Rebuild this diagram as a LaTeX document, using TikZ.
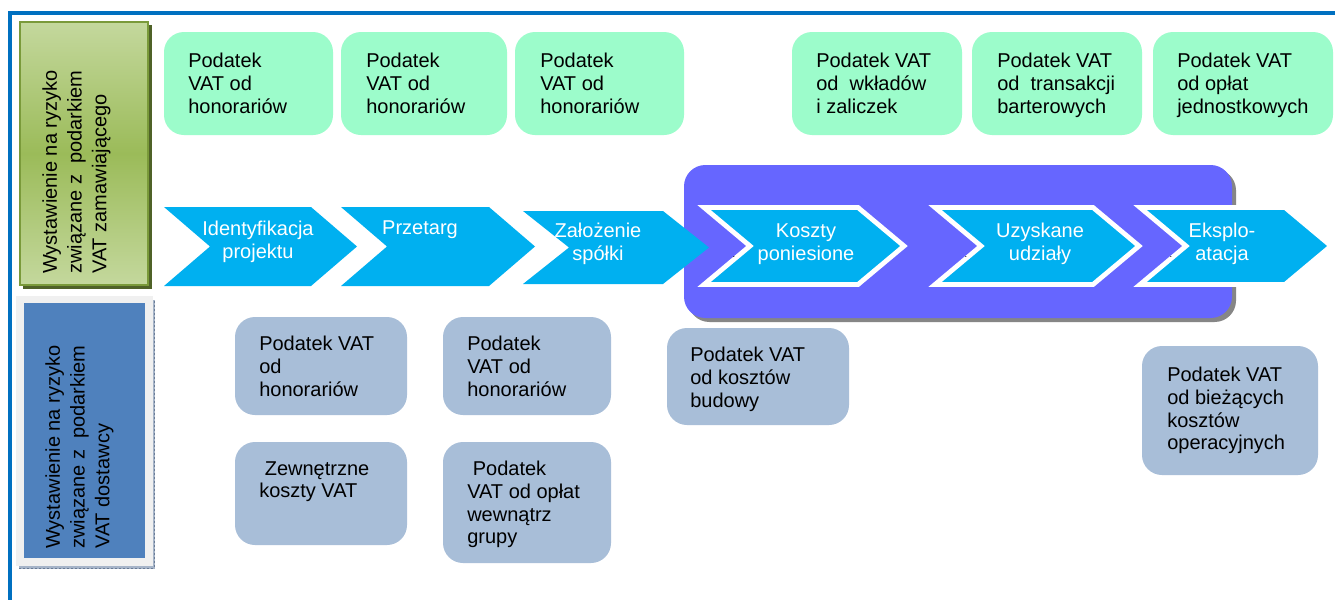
\documentclass[tikz,border=0pt]{standalone}
\usepackage{fontspec}
\setmainfont{Liberation Sans}
\definecolor{frameblue}{HTML}{0070C0}
\definecolor{mint}{HTML}{9CFCCB}
\definecolor{steel}{HTML}{A8BED8}
\definecolor{chevblue}{HTML}{00B0F0}
\definecolor{violet}{HTML}{6666FF}
\definecolor{oliveLight}{HTML}{C4D89D}
\definecolor{oliveMid}{HTML}{9BBB59}
\definecolor{oliveDark}{HTML}{4F6228}
\definecolor{oliveEdge}{HTML}{7A9A3A}
\definecolor{paneBlue}{HTML}{4F81BD}
\definecolor{paneGrey}{HTML}{F0F0F0}
\definecolor{hatch}{HTML}{A6B4C8}
\definecolor{hatchDark}{HTML}{6A7C96}

% chevron outline: style, left, right, top, bottom, tip depth
\newcommand\chevshape[6]{%
  \path[#1] (#2,#4) -- ({#3-#6},#4) -- (#3,{(#4+#5)/2}) -- ({#3-#6},#5)
    -- (#2,#5) -- ({#2+#6},{(#4+#5)/2}) -- cycle;}

\tikzset{
  body/.style={font=\fontsize{15}{17}\selectfont},
  boxtext/.style={body, anchor=north west, align=left, inner sep=0pt, text=black},
  sidetext/.style={font=\fontsize{15}{18.6}\selectfont, rotate=90, anchor=north west,
    align=left, inner sep=0pt, text=black},
  chevtext/.style={body, align=center, inner sep=0pt, text=white},
  mintbox/.style={fill=mint, rounded corners=15pt},
  steelbox/.style={fill=steel, rounded corners=15pt},
  chevplain/.style={fill=chevblue},
  chevframed/.style={fill=chevblue, draw=white, line width=3.6pt, line join=miter},
  speck/.style={font=\fontsize{7}{8}\selectfont, inner sep=0pt, text=black}
}

\begin{document}
\begin{tikzpicture}[x=0.75pt, y=-0.75pt]
\useasboundingbox (0,0) rectangle (1335,600);
\fill[white] (0,0) rectangle (1335,600);

% open frame
\draw[frameblue, line width=2.6pt] (1335,13) -- (10,13) -- (10,600);

% side panel: client
\fill[oliveDark] (23,25) rectangle (152,289);
\shade[top color=oliveLight, bottom color=oliveLight, middle color=oliveMid]
  (20,22) rectangle (148,285);
\draw[oliveEdge, line width=1pt] (20,22) rectangle (148,285);
\node[sidetext] (clientrisk) at (42,274)
  {Wystawienie na ryzyko\\związane z\ \ podarkiem\\VAT zamawiającego};

% side panel: supplier
\fill[hatch] (19,300) rectangle (155,569);
\draw[hatchDark, line width=0.6pt, dash pattern=on 1.5pt off 1.5pt] (154,301) -- (154,568) -- (19,568);
\fill[paneGrey] (16,296) rectangle (153,566);
\fill[paneBlue] (24,303) rectangle (145,558);
\node[sidetext] (supplierrisk) at (45,549)
  {Wystawienie na ryzyko\\związane z\ \ podarkiem\\VAT dostawcy};

% top row of tax boxes
\fill[mintbox] (164,32) rectangle (333,135);
\fill[mintbox] (341,32) rectangle (507,135);
\fill[mintbox] (515,32) rectangle (684,135);
\fill[mintbox] (792,32) rectangle (962,135);
\fill[mintbox] (972,32) rectangle (1142,135);
\fill[mintbox] (1153,32) rectangle (1333,135);
\node[boxtext] (t1) at (188,53) {Podatek\\VAT od\\honorariów};
\node[boxtext] (t2) at (366,53) {Podatek\\VAT od\\honorariów};
\node[boxtext] (t3) at (540,53) {Podatek\\VAT od\\honorariów};
\node[boxtext] (t4) at (816,53) {Podatek VAT\\od\ \ wkładów\\i zaliczek};
\node[boxtext] (t5) at (997,53) {Podatek VAT\\od\ \ transakcji\\barterowych};
\node[boxtext] (t6) at (1177,53) {Podatek VAT\\od opłat\\jednostkowych};

% highlighted phase band
\fill[gray!95, rounded corners=16pt] (688,169) rectangle (1236,322);
\fill[violet, rounded corners=16pt] (684,165) rectangle (1232,318);

% process chevrons
\chevshape{chevplain}{164}{357}{207}{286}{46}
\chevshape{chevplain}{341}{535}{207}{286}{46}
\chevshape{chevplain}{523}{709}{211}{284}{46}
\chevshape{chevframed}{704}{904}{207.5}{284.5}{46}
\chevshape{chevframed}{935}{1139}{207.5}{284.5}{46}
\chevshape{chevframed}{1140}{1331}{207.5}{284.5}{46}

\node[chevtext] (s1) at (258,242) {Identyfikacja\\projektu};
\node[chevtext] (s2) at (420,230) {Przetarg};
\node[chevtext] (s3) at (598,244) {Założenie\\spółki};
\node[chevtext] (s4) at (806,244) {Koszty\\poniesione};
\node[chevtext] (s5) at (1040,244) {Uzyskane\\udziały};
\node[chevtext] (s6) at (1222,244) {Eksplo-\\atacja};
\node[speck] (d4) at (734,257) {.};
\node[speck] (d5) at (966,257) {.};
\node[speck] (d6) at (1171,257) {.};

% bottom row of tax boxes
\fill[steelbox] (235,317) rectangle (407,415);
\fill[steelbox] (235,442) rectangle (407,545);
\fill[steelbox] (443,317) rectangle (611,415);
\fill[steelbox] (443,442) rectangle (611,563);
\fill[steelbox] (667,328) rectangle (849,425);
\fill[steelbox] (1142,346) rectangle (1318,475);
\node[boxtext] (u1) at (259,336) {Podatek VAT\\od\\honorariów};
\node[boxtext] (u2) at (259,461) {\ Zewnętrzne\\koszty VAT};
\node[boxtext] (u3) at (467,336) {Podatek\\VAT od\\honorariów};
\node[boxtext] (u4) at (467,461) {\ Podatek\\VAT od opłat\\wewnątrz\\grupy};
\node[boxtext] (u5) at (690,347) {Podatek VAT\\od kosztów\\budowy};
\node[boxtext] (u6) at (1167,367) {Podatek VAT\\od bieżących\\kosztów\\operacyjnych};
\end{tikzpicture}
\end{document}
